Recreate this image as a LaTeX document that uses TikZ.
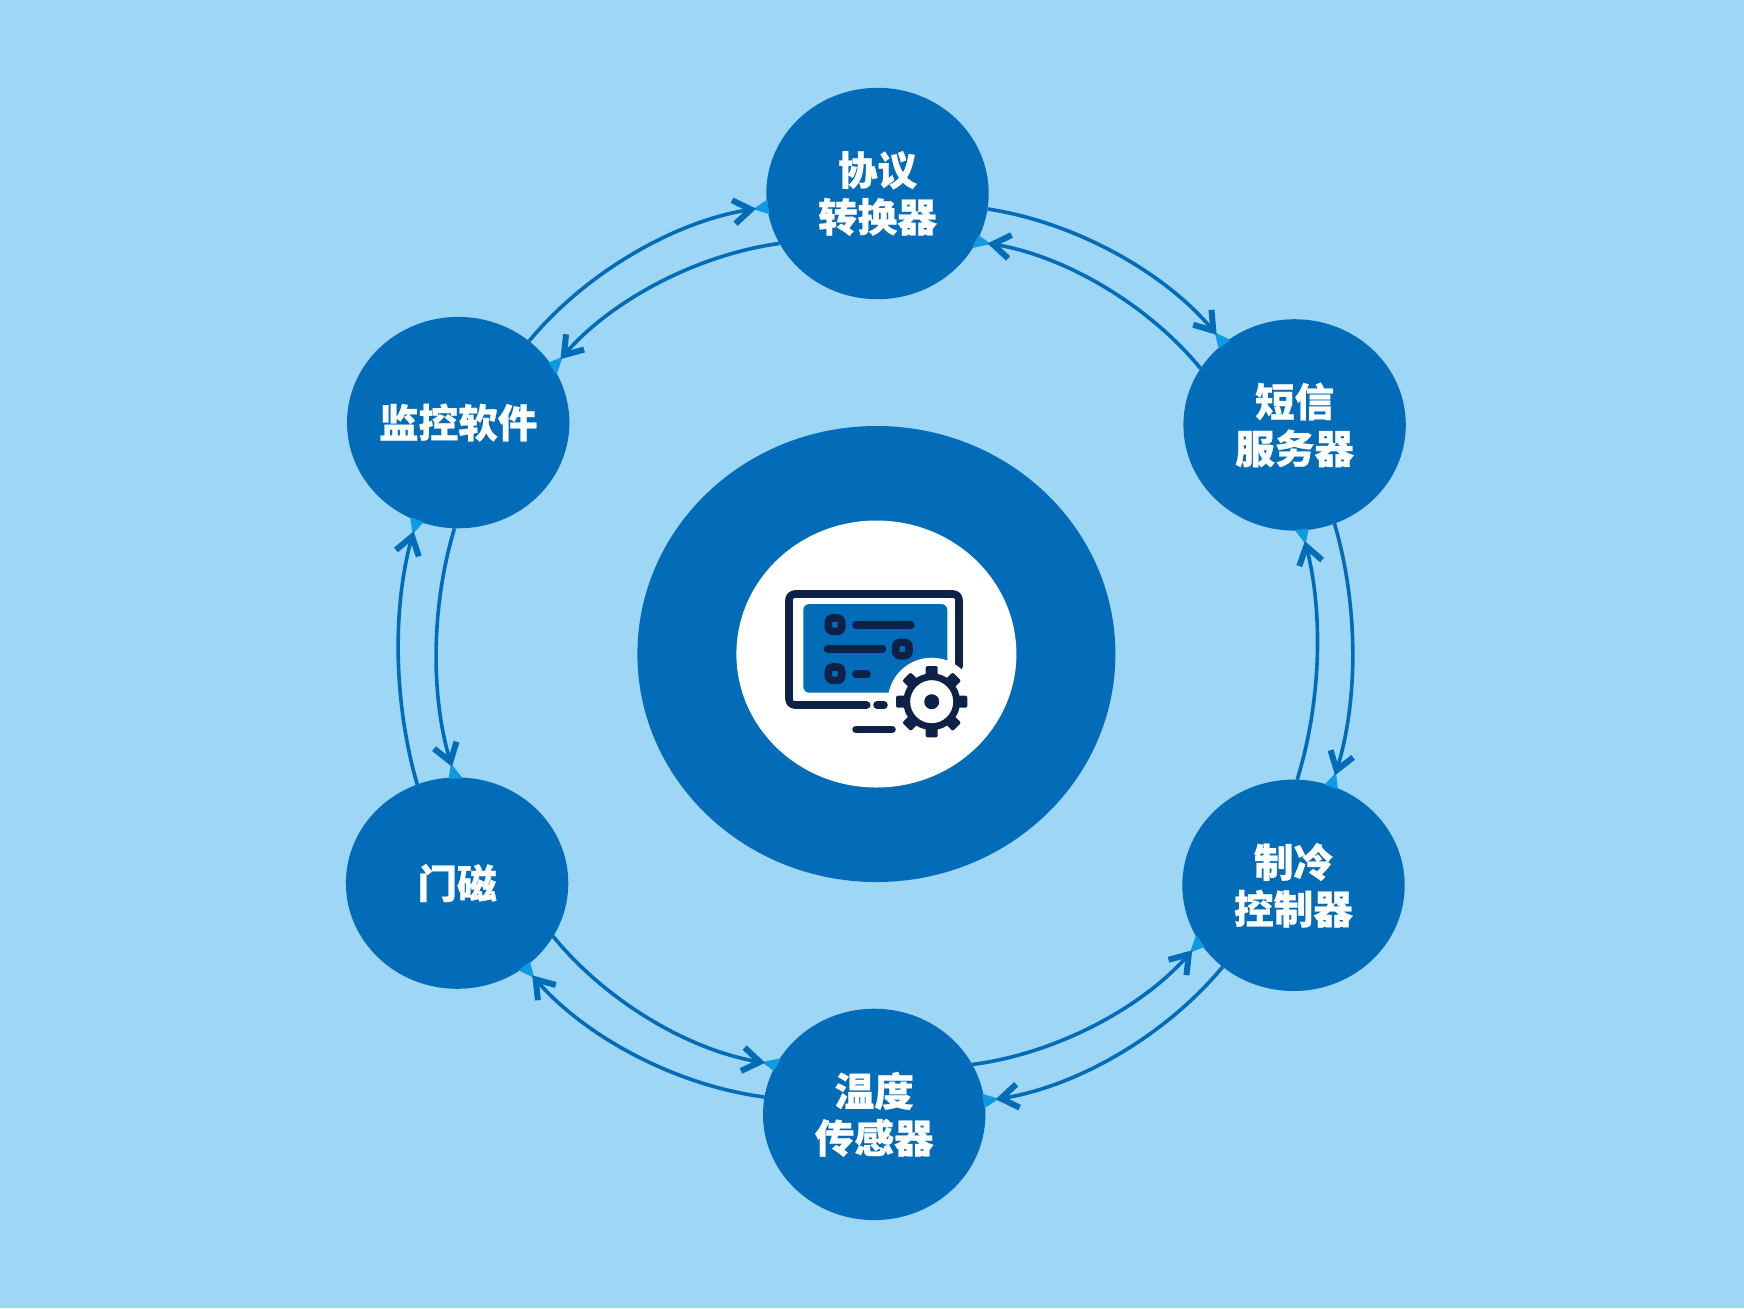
\documentclass[tikz,border=0pt]{standalone}
\usepackage{fontspec}
\setmainfont{Liberation Sans}
\newfontfamily\cjk[BoldFeatures={FakeBold=0.6}]{Noto Sans CJK SC}
\usetikzlibrary{shapes.geometric,arrows.meta,calc}
\definecolor{bgblue}{HTML}{9ED6F6}
\definecolor{mainblue}{HTML}{026CB8}
\definecolor{tipblue}{HTML}{0F9BE3}
\definecolor{inkblue}{HTML}{0E2147}
\pgfdeclarearrow{
  name = Chevron,
  setup code = {
    \pgfarrowssettipend{0pt}
    \pgfarrowssetlineend{-2.8pt}
    \pgfarrowssetvisualbackend{-9pt}
    \pgfarrowshullpoint{0pt}{0pt}
    \pgfarrowshullpoint{-11pt}{6.5pt}
    \pgfarrowshullpoint{-11pt}{-6.5pt}
  },
  drawing code = {
    \pgfsetlinewidth{3pt}
    \pgfsetmiterjoin
    \pgfsetbuttcap
    \pgfsetdash{}{0pt}
    \pgfpathmoveto{\pgfpoint{-11.4pt}{5.9pt}}
    \pgfpathlineto{\pgfpoint{-2.75pt}{0pt}}
    \pgfpathlineto{\pgfpoint{-11.4pt}{-5.9pt}}
    \pgfusepathqstroke
  }
}
\tikzset{
  station/.style={ellipse,fill=mainblue,text=white,minimum width=111.2pt,minimum height=105.7pt,inner sep=-8pt,outer sep=0pt,align=center,
    font=\cjk\bfseries\fontsize{19.8}{23.4}\selectfont},
  link/.style={draw=mainblue,line width=1.8pt,shorten >=5.5pt,looseness=0.85,-Chevron},
  wedge/.style={fill=tipblue,draw=tipblue,line width=1pt,line join=round},
  icon/.style={draw=inkblue,line width=3.8pt,line cap=round,line join=round},
  gearteeth/.style={fill=inkblue,rounded corners=1pt},
}
\newcommand{\linkarc}[5]{%
  \path[wedge] let \p1=(#1.#2),\p2=(#3.#4),\n1={atan2(\y1-\y2,\x1-\x2)-(#5)} in
    (#3.{#4-3}) -- ($(#3.#4)+(\n1:6pt)$) -- (#3.{#4+3}) -- cycle;
  \draw[link] (#1.#2) to[bend left=#5] (#3.#4);
}
\begin{document}
\begin{tikzpicture}[x=0.5pt,y=-0.5pt]
\useasboundingbox (0,0) rectangle (1744,1308);
\fill[bgblue] (0,0) rectangle (1744,1308);
% hub
\node[ellipse,fill=mainblue,minimum width=239pt,minimum height=228pt,inner sep=0pt] (hub) at (876.4,654) {};
\node[ellipse,fill=white,minimum width=140pt,minimum height=133.5pt,inner sep=0pt] (hubcore) at (876.4,654) {};
% stations
\node[station] (top) at (877.5,193.5) {协议\\转换器};
\node[station] (sms) at (1294.6,424.9) {短信\\服务器};
\node[station] (cool) at (1293.5,885.3) {制冷\\控制器};
\node[station] (bot) at (874.2,1114.4) {温度\\传感器};
\node[station] (door) at (457.1,883.1) {门磁};
\node[station] (soft) at (458.2,422.6) {监控软件};
% links
\linkarc{top}{-8.1}{sms}{131.6}{21}
\linkarc{sms}{149.2}{top}{-26.8}{-21}
\linkarc{sms}{-68.2}{cool}{69.5}{17}
\linkarc{cool}{88.8}{sms}{-86.4}{-16}
\linkarc{cool}{229.6}{bot}{7.8}{21}
\linkarc{bot}{27.3}{cool}{211}{-21}
\linkarc{bot}{171.9}{door}{-51.5}{21}
\linkarc{door}{-29.7}{bot}{153.7}{-21}
\linkarc{door}{112}{soft}{247.7}{16}
\linkarc{soft}{268.8}{door}{91.8}{-17}
\linkarc{soft}{49.6}{top}{187}{21}
\linkarc{top}{207.9}{soft}{30.2}{-21}
% icon
\fill[mainblue,rounded corners=3pt] (803.3,604) rectangle (947.3,692.7);
\draw[icon] (866.7,705) -- (795,705) arc[start angle=90,end angle=180,radius=6] -- (789,600) arc[start angle=180,end angle=270,radius=6] -- (953,594) arc[start angle=270,end angle=360,radius=6] -- (959,666.7);
\draw[icon] (877,705) -- (884,705);
\draw[icon] (856,729.3) -- (892,729.3);
\draw[icon,rounded corners=2pt] (828.3,618) rectangle (841.7,631.4);
\draw[icon] (856,624.7) -- (911,624.7);
\draw[icon] (827.5,649) -- (882.5,649);
\draw[icon,rounded corners=2pt] (895.6,642.3) rectangle (909,655.7);
\draw[icon,rounded corners=2pt] (828.3,667) rectangle (841.7,680.4);
\draw[icon] (856,673.7) -- (867,673.7);
\fill[white] (931.7,701.7) circle[radius=44];
\foreach \a in {0,45,...,315}{
  \fill[gearteeth,rotate around={\a:(931.7,701.7)}] (925.7,677) rectangle (937.7,666);
}
\draw[draw=inkblue,line width=3.4pt,fill=white] (931.7,701.7) circle[radius=25];
\fill[inkblue] (931.7,701.7) circle[radius=7.5];
\end{tikzpicture}
\end{document}
